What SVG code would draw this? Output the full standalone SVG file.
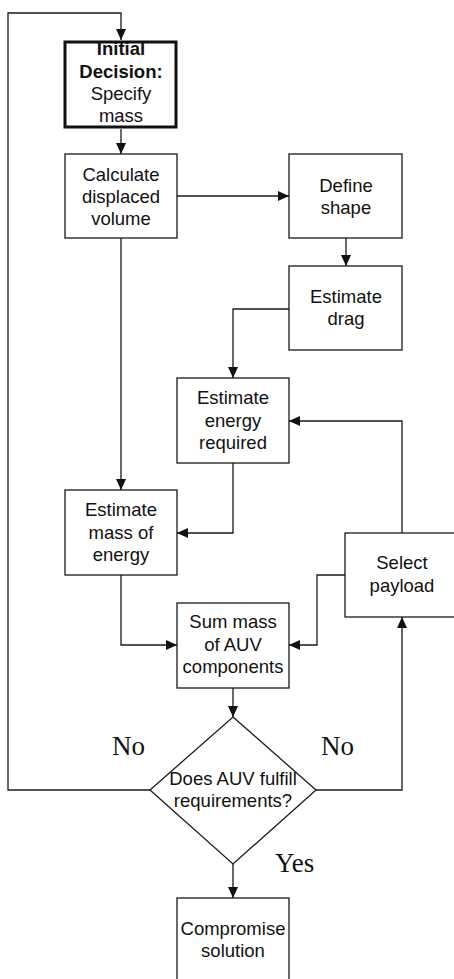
<svg xmlns="http://www.w3.org/2000/svg" width="454" height="979" viewBox="0 0 454 979">
<style>
.box{fill:#fff;stroke:#1a1a1a;stroke-width:1.3}
.thick{fill:#fff;stroke:#111;stroke-width:3}
.t{font-family:"Liberation Sans",Arial,sans-serif;font-size:18.5px;fill:#111;text-anchor:middle}
.b{font-weight:bold}
.lbl{font-family:"Liberation Serif","Times New Roman",serif;font-size:27px;fill:#111}
.c{fill:none;stroke:#1a1a1a;stroke-width:1.3}
</style>
<defs>
<marker id="ah" markerUnits="userSpaceOnUse" markerWidth="12" markerHeight="11" refX="11" refY="5" orient="auto">
<path d="M0,0 L11,5 L0,10 z" fill="#111"/>
</marker>
</defs>
<rect width="454" height="979" fill="#fff"/>
<g id="connectors">
<polyline class="c" points="150,790 8,790 8,13 121,13 121,40" marker-end="url(#ah)"/>
<line class="c" x1="121" y1="129" x2="121" y2="154" marker-end="url(#ah)"/>
<line class="c" x1="177" y1="196" x2="289" y2="196" marker-end="url(#ah)"/>
<line class="c" x1="346" y1="238" x2="346" y2="266" marker-end="url(#ah)"/>
<polyline class="c" points="289,309 233,309 233,378" marker-end="url(#ah)"/>
<line class="c" x1="121" y1="238" x2="121" y2="490" marker-end="url(#ah)"/>
<polyline class="c" points="233,463 233,533 177,533" marker-end="url(#ah)"/>
<polyline class="c" points="121,575 121,645 177,645" marker-end="url(#ah)"/>
<polyline class="c" points="345,575 317,575 317,645 289,645" marker-end="url(#ah)"/>
<polyline class="c" points="402,533 402,421 289,421" marker-end="url(#ah)"/>
<line class="c" x1="233" y1="688" x2="233" y2="717" marker-end="url(#ah)"/>
<polyline class="c" points="316,790 402,790 402,617" marker-end="url(#ah)"/>
<line class="c" x1="233" y1="864" x2="233" y2="898" marker-end="url(#ah)"/>
</g>
<g id="initial">
<rect class="thick" x="65" y="42" width="111" height="85"/>
<text class="t b" x="121" y="55">Initial</text>
<text class="t b" x="121" y="78">Decision:</text>
<text class="t" x="121" y="100">Specify</text>
<text class="t" x="121" y="122">mass</text>
</g>
<g id="calculate">
<rect class="box" x="65" y="154" width="112" height="84"/>
<text class="t" x="121" y="181">Calculate</text>
<text class="t" x="121" y="203">displaced</text>
<text class="t" x="121" y="225">volume</text>
</g>
<g id="define">
<rect class="box" x="289" y="154" width="113" height="84"/>
<text class="t" x="346" y="192">Define</text>
<text class="t" x="346" y="214">shape</text>
</g>
<g id="drag">
<rect class="box" x="289" y="266" width="113" height="84"/>
<text class="t" x="346" y="303">Estimate</text>
<text class="t" x="346" y="325">drag</text>
</g>
<g id="energy">
<rect class="box" x="177" y="378" width="112" height="85"/>
<text class="t" x="233" y="404">Estimate</text>
<text class="t" x="233" y="427">energy</text>
<text class="t" x="233" y="449">required</text>
</g>
<g id="massenergy">
<rect class="box" x="65" y="490" width="112" height="85"/>
<text class="t" x="121" y="516">Estimate</text>
<text class="t" x="121" y="539">mass of</text>
<text class="t" x="121" y="561">energy</text>
</g>
<g id="payload">
<rect class="box" x="345" y="533" width="114" height="84"/>
<text class="t" x="402" y="569">Select</text>
<text class="t" x="402" y="592">payload</text>
</g>
<g id="sum">
<rect class="box" x="177" y="603" width="112" height="85"/>
<text class="t" x="233" y="628">Sum mass</text>
<text class="t" x="233" y="651">of AUV</text>
<text class="t" x="233" y="673">components</text>
</g>
<g id="decision">
<polygon class="box" points="233,717 316,790 233,864 150,790"/>
<text class="t" x="233" y="785">Does AUV fulfill</text>
<text class="t" x="233" y="807">requirements?</text>
</g>
<g id="compromise">
<rect class="box" x="177" y="898" width="112" height="86"/>
<text class="t" x="233" y="935">Compromise</text>
<text class="t" x="233" y="957">solution</text>
</g>
<g id="labels">
<text class="lbl" x="112" y="755">No</text>
<text class="lbl" x="321" y="755">No</text>
<text class="lbl" x="275" y="872">Yes</text>
</g>
</svg>
